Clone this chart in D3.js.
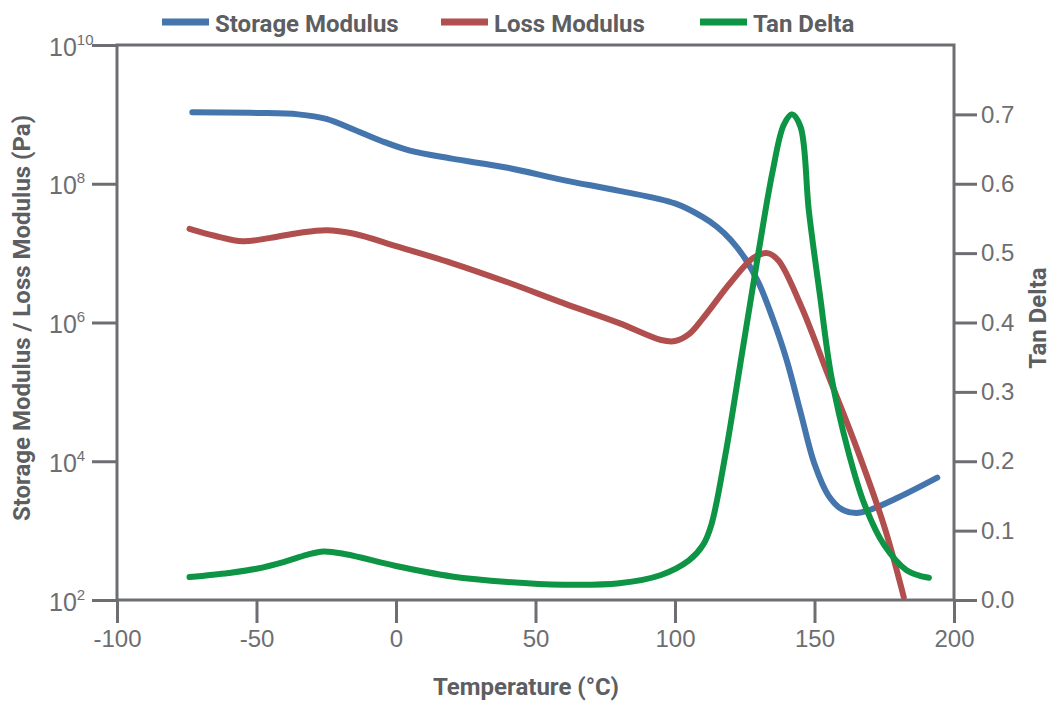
<!DOCTYPE html>
<html>
<head>
<meta charset="utf-8">
<script src="https://cdn.jsdelivr.net/npm/d3@7"></script>
<style>
body { margin: 0; background: #fff; }
svg { font-family: Roboto, "Noto Sans", sans-serif; }
</style>
</head>
<body>
<script>
var W = 1051, H = 704;
var margin = {top: 45, right: 97, bottom: 104, left: 117};
var w = W - margin.left - margin.right;
var h = H - margin.top - margin.bottom;

var axisColor = "#6d6e71";
var textColor = "#5d5e61";

// temperature (°C) and storage modulus (Pa)
var storageT = [-73, -50, -35, -25, -15, -5, 5, 20, 40, 60, 80, 100, 110, 115, 120, 125, 130, 135, 140, 145, 150, 155, 160, 165, 170, 180, 194];
var storageG = [1.07e9, 1.05e9, 1.0e9, 8.6e8, 6.0e8, 4.1e8, 3.0e8, 2.3e8, 1.7e8, 1.13e8, 7.9e7, 5.2e7, 3.3e7, 2.4e7, 1.55e7, 8.5e6, 3.7e6, 1.15e6, 2.9e5, 5.1e4, 9.1e3, 3.2e3, 2.0e3, 1.8e3, 2.0e3, 3.0e3, 5.8e3];

// loss modulus (Pa)
var lossT = [-74, -65, -55, -45, -35, -25, -15, 0, 20, 40, 60, 80, 95, 100, 105, 110, 120, 128, 133, 137, 145, 155, 165, 175, 182];
var lossG = [2.24e7, 1.78e7, 1.48e7, 1.66e7, 1.95e7, 2.14e7, 1.9e7, 1.26e7, 7.2e6, 3.8e6, 1.9e6, 9.8e5, 5.6e5, 5.4e5, 6.8e5, 1.15e6, 3.8e6, 8.5e6, 1.0e7, 7.9e6, 1.8e6, 1.7e5, 1.6e4, 1.15e3, 1.1e2];

// tan delta
var tanT = [-74, -60, -50, -40, -32, -26, -18, 0, 20, 40, 60, 80, 95, 105, 110, 113, 118, 124, 130, 135, 139, 142, 145, 148, 152, 156, 162, 168, 175, 183, 191];
var tanD = [0.033, 0.039, 0.045, 0.055, 0.065, 0.070, 0.066, 0.049, 0.034, 0.026, 0.022, 0.024, 0.036, 0.057, 0.079, 0.108, 0.208, 0.355, 0.503, 0.618, 0.685, 0.700, 0.682, 0.56, 0.438, 0.323, 0.216, 0.137, 0.079, 0.043, 0.032];

var xTicks = [-100, -50, 0, 50, 100, 150, 200];
var yLeftTicks = [2, 4, 6, 8, 10];
var yRightTicks = [0, 0.1, 0.2, 0.3, 0.4, 0.5, 0.6, 0.7];

var seriesNames = ["Storage Modulus", "Loss Modulus", "Tan Delta"];
var seriesColors = ["#4475ad", "#b04f4e", "#0d9445"];
var legendX = [162, 441, 700];

var svg = d3.select("body").append("svg")
    .attr("width", W)
    .attr("height", H);

var g = svg.append("g")
    .attr("transform", "translate(" + margin.left + "," + margin.top + ")");

var xScale = d3.scaleLinear().domain([-100, 200]).range([0, w]);
var yScale = d3.scaleLog().domain([1e2, 1e10]).range([h, 0]);
var y2Scale = d3.scaleLinear().domain([0, 0.8]).range([h, 0]);

// frame
g.append("rect")
    .attr("width", w)
    .attr("height", h)
    .attr("fill", "none")
    .attr("stroke", axisColor)
    .attr("stroke-width", 3);

// curves
var curve = d3.curveCatmullRom.alpha(0.5);
var storageLine = d3.line().curve(curve)
    .x(function(d, i) { return xScale(storageT[i]); })
    .y(function(d) { return yScale(d); });
var lossLine = d3.line().curve(curve)
    .x(function(d, i) { return xScale(lossT[i]); })
    .y(function(d) { return yScale(d); });
var tanLine = d3.line().curve(curve)
    .x(function(d, i) { return xScale(tanT[i]); })
    .y(function(d) { return y2Scale(d); });

[[storageG, storageLine], [lossG, lossLine], [tanD, tanLine]].forEach(function(s, i) {
    g.append("path")
        .datum(s[0])
        .attr("d", s[1])
        .attr("fill", "none")
        .attr("stroke", seriesColors[i])
        .attr("stroke-width", 6)
        .attr("stroke-linecap", "round")
        .attr("stroke-linejoin", "round");
});

// axes
function styleAxis(sel) {
    sel.select(".domain").remove();
    sel.selectAll(".tick line")
        .attr("stroke", axisColor)
        .attr("stroke-width", 3);
    sel.selectAll(".tick text")
        .attr("fill", axisColor)
        .attr("font-size", "24px");
}

var xAxis = d3.axisBottom(xScale).tickValues(xTicks).tickSize(23).tickPadding(7)
    .tickFormat(function(d) { return String(d); });
g.append("g")
    .attr("transform", "translate(0," + h + ")")
    .call(xAxis)
    .call(styleAxis);

var yAxis = d3.axisLeft(yScale)
    .tickValues(yLeftTicks.map(function(e) { return Math.pow(10, e); }))
    .tickSize(25)
    .tickFormat("");
var yAxisG = g.append("g").call(yAxis).call(styleAxis);

yAxisG.selectAll(".tick").each(function(d) {
    var t = d3.select(this).append("text")
        .attr("x", -68)
        .attr("y", 10)
        .attr("text-anchor", "start")
        .attr("fill", axisColor)
        .attr("font-size", "25px");
    t.append("tspan").text("10");
    t.append("tspan")
        .attr("dy", -11)
        .attr("font-size", "15px")
        .text(Math.round(Math.log10(d)));
});

var y2Axis = d3.axisRight(y2Scale).tickValues(yRightTicks).tickSize(23).tickPadding(4)
    .tickFormat(d3.format(".1f"));
g.append("g")
    .attr("transform", "translate(" + w + ",0)")
    .call(y2Axis)
    .call(styleAxis);

// axis titles
svg.append("text")
    .attr("x", 526)
    .attr("y", 695)
    .attr("text-anchor", "middle")
    .attr("font-size", "24px")
    .attr("font-weight", "bold")
    .attr("fill", textColor)
    .text("Temperature (°C)");

svg.append("text")
    .attr("transform", "translate(30," + 318 + ") rotate(-90)")
    .attr("text-anchor", "middle")
    .attr("font-size", "24px")
    .attr("font-weight", "bold")
    .attr("fill", textColor)
    .text("Storage Modulus / Loss Modulus (Pa)");

svg.append("text")
    .attr("transform", "translate(1046," + 318 + ") rotate(-90)")
    .attr("text-anchor", "middle")
    .attr("font-size", "24px")
    .attr("font-weight", "bold")
    .attr("fill", textColor)
    .text("Tan Delta");

// legend
var legend = svg.selectAll(".legend")
    .data(seriesNames)
    .enter()
    .append("g")
    .attr("class", "legend")
    .attr("transform", function(d, i) { return "translate(" + legendX[i] + ",22)"; });

legend.append("line")
    .attr("x1", 0)
    .attr("x2", 47)
    .attr("stroke", function(d, i) { return seriesColors[i]; })
    .attr("stroke-width", 7);

legend.append("text")
    .attr("x", 53)
    .attr("y", 10)
    .attr("font-size", "24px")
    .attr("font-weight", "bold")
    .attr("fill", textColor)
    .text(function(d) { return d; });
</script>
</body>
</html>
